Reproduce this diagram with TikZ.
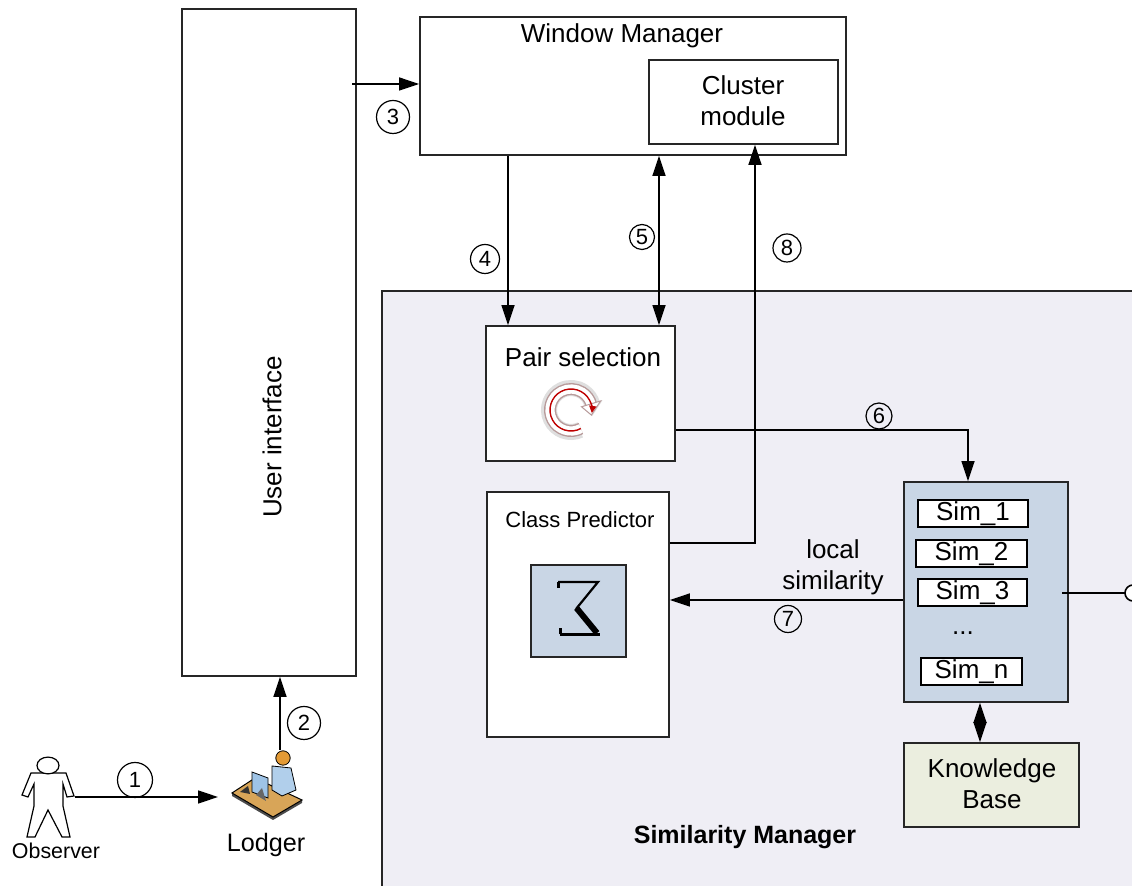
\documentclass[tikz,border=0pt]{standalone}
\usepackage{fontspec}
\setmainfont{Liberation Sans}
\usepackage{tikz}
\usetikzlibrary{arrows.meta}
\definecolor{smback}{HTML}{EFEEF5}
\definecolor{simblue}{HTML}{C9D6E5}
\definecolor{kbgreen}{HTML}{EBEEDF}
\definecolor{edge}{HTML}{262626}
\definecolor{desktan}{HTML}{D8A558}
\definecolor{screenblue}{HTML}{9EC3E6}
\definecolor{headorange}{HTML}{E39A35}
\definecolor{ringedge}{HTML}{B79A9A}

\begin{document}
\begin{tikzpicture}[x=0.5pt,y=-0.5pt,
  box/.style={draw=edge, line width=0.9pt, fill=white, inner sep=0pt},
  txt/.style={font=\fontsize{13}{15.5}\selectfont, align=center, inner sep=0pt},
  num/.style={circle, draw, line width=0.6pt, inner sep=0pt, minimum size=14pt, font=\fontsize{11}{11}\selectfont},
  arr/.style={line width=0.8pt, -{Triangle[length=10pt,width=6.5pt]}},
  arrs/.style={line width=0.8pt, {Triangle[length=10pt,width=6.5pt]}-{Triangle[length=10pt,width=6.5pt]}},
  simitem/.style={draw, fill=white, line width=0.8pt, minimum height=13.5pt, inner sep=0pt, font=\fontsize{13}{15}\selectfont}]

\clip (0,0) rectangle (1132,886);
\fill[white] (0,0) rectangle (1132,886);

% similarity manager area
\node[draw=edge, line width=0.9pt, fill=smback, minimum width=379pt, minimum height=302pt] (sm) at (761,593) {};
\node[txt, font=\fontsize{12.5}{15}\selectfont\bfseries] (smlabel) at (745,837) {Similarity Manager};

% user interface
\node[box, minimum width=87pt, minimum height=333.5pt] (ui) at (269,342.5) {};
\node[txt, rotate=90] (uilabel) at (272,437) {User interface};

% window manager
\node[box, minimum width=213pt, minimum height=69pt] (wm) at (633,86) {};
\node[txt] (wmlabel) at (622,36) {Window Manager};
\node[box, minimum width=94.5pt, minimum height=42pt] (cm) at (743.5,102) {};
\node[txt] (cmlabel) at (743,101) {Cluster\\module};

% pair selection
\node[box, minimum width=94.5pt, minimum height=67.5pt] (pair) at (580.5,393.5) {};
\node[txt] (pairlabel) at (583,357) {Pair selection};
\coordinate (icon) at (571,410);
% shadow ring
\draw[gray!25, line width=8pt] ([shift={(-65:11pt)}]icon) arc[start angle=-65, end angle=-345, radius=11pt];
\fill[gray!25] ([shift={(-343:16.5pt)}]icon) -- ([shift={(-343:5.5pt)}]icon) -- ([shift={(-376:11pt)}]icon) -- cycle;
% ring
\draw[ringedge, line width=6pt] ([shift={(-62:10.5pt)}]icon) arc[start angle=-62, end angle=-345, radius=10.5pt];
\draw[white, line width=4.6pt] ([shift={(-62:10.5pt)}]icon) arc[start angle=-62, end angle=-345, radius=10.5pt];
\draw[ringedge, line width=0.5pt, fill=white] ([shift={(-343:15.5pt)}]icon) -- ([shift={(-343:5.5pt)}]icon) -- ([shift={(-374:10.5pt)}]icon) -- cycle;
\draw[red!75!black, line width=0.7pt, -{Triangle[length=3.5pt,width=3.5pt]}] ([shift={(-62:10.5pt)}]icon) arc[start angle=-62, end angle=-368, radius=10.5pt];

% class predictor
\node[box, minimum width=91pt, minimum height=122.5pt] (cp) at (578,614.5) {};
\node[txt, font=\fontsize{11}{13}\selectfont] (cplabel) at (580,519.5) {Class Predictor};
\node[box, fill=simblue, minimum width=47.5pt, minimum height=46pt] (sig) at (578.5,611) {};
% reversed sum sign
\draw[line width=1.1pt, line join=miter] (558,582) -- (598,582) -- (576,609);
\draw[line width=3pt] (576.5,608) -- (597,633);
\draw[line width=1.5pt] (560,634.5) -- (600,634.5);
\draw[line width=1.1pt] (558.5,582) -- (558.5,588);
\draw[line width=1.3pt] (560.5,634.5) -- (560.5,628);

% similarity measures
\node[box, fill=simblue, minimum width=82pt, minimum height=110pt] (sim) at (986,592) {};
\node[simitem, minimum width=55pt] (s1) at (973,513.5) {Sim\_1};
\node[simitem, minimum width=55.5pt] (s2) at (971.5,553.5) {Sim\_2};
\node[simitem, minimum width=54.5pt] (s3) at (972.5,592.5) {Sim\_3};
\node[txt] (dots) at (963,633) {...};
\node[simitem, minimum width=50.5pt] (sn) at (971.5,671.5) {Sim\_n};

% knowledge base
\node[box, fill=kbgreen, minimum width=87.5pt, minimum height=42pt] (kb) at (991.5,785) {};
\node[txt] (kblabel) at (992,784) {Knowledge\\Base};

% observer
\draw[line width=0.6pt, fill=white] (42,773) -- (31,773) -- (22,795) -- (28,797) -- (34,784) -- (34,806)
  -- (27,837) -- (35,837) -- (48,810) -- (62,837) -- (70,837) -- (63,806) -- (63,784)
  -- (67,797) -- (74,796) -- (66,773) -- (54,773) -- cycle;
\draw[line width=0.6pt, fill=white] (48,765.5) ellipse [x radius=5.5pt, y radius=4.2pt];
\node[txt, font=\fontsize{10.7}{12}\selectfont] (obslabel) at (56,850.5) {Observer};
\coordinate (obs) at (75,797);

% lodger
\fill[black!70] (232,793) -- (273,817) -- (302,800) -- (302,803) -- (273,820) -- (232,796) -- cycle;
\draw[line width=0.5pt, fill=desktan] (255,778) -- (232,793) -- (273,817) -- (302,800) -- cycle;
\fill[black!80] (240,792) -- (248,786) -- (250,794) -- cycle;
\draw[line width=0.4pt, fill=screenblue] (252,772) -- (268,778) -- (268,798) -- (252,792) -- cycle;
\fill[black!60] (256,795) -- (262,788) -- (266,801) -- cycle;
\draw[line width=0.4pt, fill=screenblue!80] (272,766) -- (291,768) -- (296,790) -- (282,796) -- (272,790) -- cycle;
\draw[line width=0.4pt, fill=headorange] (283,758) circle [radius=3.6pt];
\node[txt, font=\fontsize{12.6}{14}\selectfont] (lodlabel) at (266,845) {Lodger};
\coordinate (lodin) at (218,797);
\coordinate (lodtop) at (280,750);

% connectors
\coordinate (c3) at (352,84);
\coordinate (c4) at (508,0);
\coordinate (c5) at (659,0);
\coordinate (c6) at (968,430);
\coordinate (c7) at (0,600);
\coordinate (c8) at (755,543);
\coordinate (kbx) at (980,0);
\coordinate (outl) at (1062,593);
\coordinate (outr) at (1125,593);

\draw[arr] (obs) -- (lodin);
\draw[arr] (lodtop) -- (lodtop |- ui.south);
\draw[arr] (c3) -- (c3 -| wm.west);
\draw[arr] (c4 |- wm.south) -- (c4 |- pair.north);
\draw[arrs] (c5 |- pair.north) -- (c5 |- wm.south);
\draw[arr] (cp.east |- c8) -| (c8 |- cm.south);
\draw[arr] (pair.east |- c6) -| (c6 |- sim.north);
\draw[arr] (sim.west |- c7) -- (cp.east |- c7);
\draw[arrs] (kbx |- sim.south) -- (kbx |- kb.north);
\draw[line width=0.8pt] (outl) -- (outr);
\draw[line width=0.8pt, fill=white] (1133,593) circle [radius=4pt];

\node[txt] (simlabel) at (833,567.5) {local\\similarity};

% step numbers
\node[num, minimum size=17.5pt] (n1) at (135,780) {1};
\node[num, minimum size=16.5pt] (n2) at (304,723) {2};
\node[num, minimum size=16.5pt] (n3) at (393,117) {3};
\node[num, minimum size=14.5pt] (n4) at (485,259) {4};
\node[num, minimum size=12.5pt] (n5) at (642,237) {5};
\node[num, minimum size=13pt] (n6) at (879,416) {6};
\node[num, minimum size=13.5pt] (n7) at (788,619) {7};
\node[num, minimum size=14pt] (n8) at (787,248) {8};

\end{tikzpicture}
\end{document}
